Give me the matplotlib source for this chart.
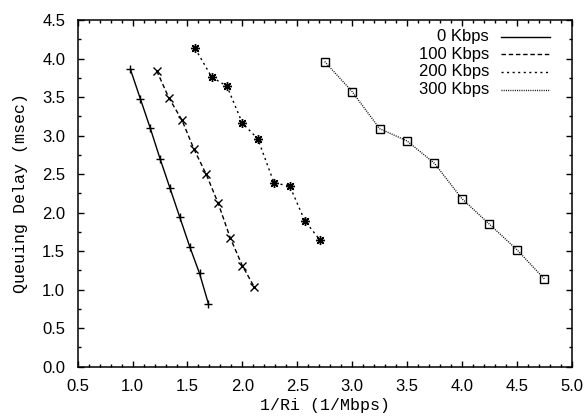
import numpy as np
import matplotlib.pyplot as plt
from matplotlib.ticker import MultipleLocator

plt.rcParams['font.family'] = 'Liberation Sans'
plt.rcParams['font.size'] = 12

# inverse rate (1/Mbps) vs queuing delay (msec), one series per cross traffic load
labels = ['0 Kbps', '100 Kbps', '200 Kbps', '300 Kbps']
x0 = [0.98, 1.07, 1.16, 1.25, 1.34, 1.43, 1.52, 1.61, 1.69]
y0 = [3.86, 3.48, 3.10, 2.70, 2.32, 1.94, 1.56, 1.21, 0.82]
x1 = [1.22, 1.33, 1.45, 1.56, 1.67, 1.78, 1.89, 2.00, 2.11]
y1 = [3.84, 3.49, 3.20, 2.82, 2.50, 2.12, 1.67, 1.31, 1.03]
x2 = [1.57, 1.72, 1.86, 2.00, 2.14, 2.29, 2.43, 2.57, 2.71]
y2 = [4.13, 3.76, 3.64, 3.16, 2.96, 2.38, 2.35, 1.89, 1.64]
x3 = [2.75, 3.00, 3.25, 3.50, 3.75, 4.00, 4.25, 4.50, 4.75]
y3 = [3.96, 3.57, 3.09, 2.93, 2.64, 2.18, 1.85, 1.52, 1.14]

dashes = [None, (3.2, 2), (1.5, 2.5), (0.7, 0.9)]
markers = ['+', 'x', (8, 2, 0), 's']
msizes = [6, 5.5, 6.5, 6]

fig = plt.figure(figsize=(5.86, 4.19), dpi=100)
ax = fig.add_axes([0.1326, 0.1248, 0.8430, 0.8275])

for i, (x, y) in enumerate([(x0, y0), (x1, y1), (x2, y2), (x3, y3)]):
    ln, = ax.plot(x, y, color='black', lw=1.0, marker=markers[i], ms=msizes[i],
                  mew=1.0, mfc='none', mec='black')
    if dashes[i] is not None:
        ln.set_dashes(dashes[i])

# gnuplot style key: right-justified text, line sample after it
for i, lab in enumerate(labels):
    yk = 0.951 - i * 0.0505
    ax.text(0.8326, yk, lab, transform=ax.transAxes, ha='right', va='center',
            fontsize=12)
    kl, = ax.plot([0.856, 0.956], [yk, yk], transform=ax.transAxes,
                  color='black', lw=1.0)
    if dashes[i] is not None:
        kl.set_dashes(dashes[i])

ax.set_xlim(0.5, 5.0)
ax.set_ylim(0.0, 4.5)
ax.xaxis.set_major_locator(MultipleLocator(0.5))
ax.xaxis.set_minor_locator(MultipleLocator(0.1))
ax.yaxis.set_major_locator(MultipleLocator(0.5))
ax.yaxis.set_minor_locator(MultipleLocator(0.25))
ax.xaxis.set_major_formatter(plt.FormatStrFormatter('%.1f'))
ax.yaxis.set_major_formatter(plt.FormatStrFormatter('%.1f'))
ax.tick_params(which='both', direction='in', top=True, right=True, width=1.0)
ax.tick_params(which='major', length=4.5, pad=9, labelsize=12)
ax.tick_params(which='minor', length=2.5)
for s in ax.spines.values():
    s.set_linewidth(1.1)

ax.set_xlabel('1/Ri (1/Mbps)', family='Liberation Mono', fontsize=12, labelpad=3)
ax.set_ylabel('Queuing Delay (msec)', family='Liberation Mono', fontsize=12, labelpad=10)

plt.savefig('out.png', dpi=100)
